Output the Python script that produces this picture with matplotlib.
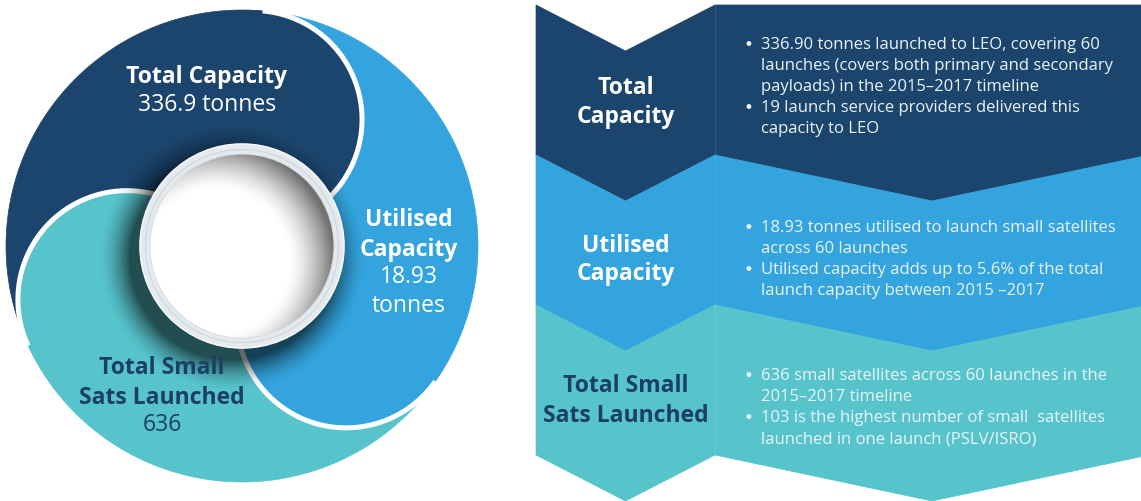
import numpy as np
import matplotlib
matplotlib.use("Agg")
import matplotlib.pyplot as plt
from matplotlib.patches import Circle, Polygon

plt.rcParams["font.family"] = ["Open Sans", "DejaVu Sans"]

NAVY = "#1b456c"
BLUE = "#33a4dd"
TEAL = "#57c4cc"
INK_NAVY = "#1b3f66"
PALE = "#eaf4f8"

# figures shown in the swirl and the panel
METRICS = ["Total Capacity", "Utilised Capacity", "Total Small Sats Launched"]
VALUES = [336.9, 18.93, 636]
UNITS = ["tonnes", "tonnes", ""]
SWIRL_TITLES = ["Total Capacity", "Utilised\nCapacity", "Total Small\nSats Launched"]
PANEL_TITLES = ["Total\nCapacity", "Utilised\nCapacity", "Total Small\nSats Launched"]
DETAILS = [
    ["336.90 tonnes launched to LEO, covering 60\nlaunches (covers both primary and secondary\npayloads) in the 2015\u20132017 timeline",
     "19 launch service providers delivered this\ncapacity to LEO"],
    ["18.93 tonnes utilised to launch small satellites\nacross 60 launches",
     "Utilised capacity adds up to 5.6% of the total\nlaunch capacity between 2015 \u20132017"],
    ["636 small satellites across 60 launches in the\n2015\u20132017 timeline",
     "103 is the highest number of small  satellites\nlaunched in one launch (PSLV/ISRO)"],
]
COLORS = [NAVY, BLUE, TEAL]
TITLE_INK = ["white", "white", INK_NAVY]

W, H = 1141, 501
CX, CY, R = 242, 246, 236
HEAD_R = 109
RING_R = 102
HEAD_DIR = [85, 325, 205]   # where each swirl arm touches the rim


def pt(ang, r, cx=CX, cy=CY):
    a = np.radians(ang)
    return cx + r * np.cos(a), cy - r * np.sin(a)


fig = plt.figure(figsize=(W / 100, H / 100), dpi=100)
ax = fig.add_axes([0, 0, 1, 1])

# --- swirl: three rim sectors, each with a round head over its neighbour
for c, phi in zip(COLORS, HEAD_DIR):
    th = np.linspace(phi, phi + 120, 200)
    xs, ys = pt(th, R)
    ax.add_patch(Polygon(np.column_stack([np.r_[CX, xs], np.r_[CY, ys]]),
                         closed=True, fc=c, ec=c, lw=0.5, zorder=1))
heads = []
for c, phi in zip(COLORS, HEAD_DIR):
    hx, hy = pt(phi, R - HEAD_R)
    ax.add_patch(Circle((hx, hy), HEAD_R, fc=c, ec="none", zorder=2))
    heads.append((hx, hy, phi))
for hx, hy, phi in heads:
    al = np.linspace(phi - 180, phi, 200)
    xs, ys = pt(al, HEAD_R, hx, hy)
    ax.plot(xs, ys, color="white", lw=3.6, solid_capstyle="butt", zorder=3)

yy, xx = np.mgrid[0:H, 0:500] + 0.5

# soft shadow round the hub, heavier towards lower left
d = np.hypot(xx - (CX - 10), yy - (CY + 12))
a = 0.6 * np.clip(1 - (d - RING_R) / 32, 0, 1) ** 1.7
sh = np.zeros((H, 500, 4))
sh[..., 3] = a
im = ax.imshow(sh, extent=(0, 500, H, 0), zorder=4, interpolation="bilinear")
im.set_clip_path(Circle((CX, CY), R, transform=ax.transData))

# hub ring and hollow centre
ax.add_patch(Circle((CX, CY), RING_R, fc="#e3e9ed", ec="#f4f7f8", lw=1.2, zorder=5))
ax.add_patch(Circle((CX, CY), 96.5, fc="none", ec="#cbd5db", lw=0.7, zorder=5))
ax.add_patch(Circle((CX, CY), 92, fc="white", ec="#d3dce1", lw=0.6, zorder=6))
d2 = np.hypot(xx - (CX - 26), yy - (CY + 16))
a2 = 0.55 * np.clip((d2 - 72) / 46, 0, 1) ** 1.5
sh2 = np.zeros((H, 500, 4))
sh2[..., 3] = a2
im2 = ax.imshow(sh2, extent=(0, 500, H, 0), zorder=7, interpolation="bilinear")
im2.set_clip_path(Circle((CX, CY), 91.5, transform=ax.transData))

# swirl labels
value_txt = [f"{v:g} {u}".strip() for v, u in zip(VALUES, UNITS)]
value_txt[1] = value_txt[1].replace(" ", "\n")
label_pos = [(207, 77), (409, 220), (162, 368)]
for title, val, (x, y), col in zip(SWIRL_TITLES, value_txt, label_pos, TITLE_INK):
    i = 0
    for ln in title.split("\n"):
        ax.text(x, y + i * 29.5, ln, ha="center", va="center", fontsize=16.5,
                fontweight="bold", color=col, zorder=8)
        i += 1
    for ln in val.split("\n"):
        ax.text(x, y + i * 29 - 1, ln, ha="center", va="center", fontsize=16.5,
                color=col, zorder=8)
        i += 1

# --- right panel: chevron bands
XL, XM, XR = 536, 715, 1149
APEX_L, APEX_R = 625.5, 932
for k, c in enumerate(COLORS):
    t, b = 5 + 150 * k, 155 + 150 * k
    left = [(XL, t), (APEX_L, t + 46), (XM, t), (XM, b), (APEX_L, b + 46), (XL, b)]
    ax.add_patch(Polygon(left, closed=True, fc=c, ec=c, lw=0.5, zorder=1))
    top = [(XM, t), (XR, t)] if k == 0 else [(XM, t), (APEX_R, t + 46), (XR, t)]
    right = top + [(XR, b), (APEX_R, b + 46), (XM, b)]
    ax.add_patch(Polygon(right, closed=True, fc=c, ec=c, lw=0.5, zorder=1))
    ax.plot([XM, XM], [t, b], color="white", alpha=0.12, lw=0.6, zorder=2)

title_y = [102, 260, 401]
for title, y, col in zip(PANEL_TITLES, title_y, TITLE_INK):
    lines = title.split("\n")
    for i, ln in enumerate(lines):
        ax.text(APEX_L, y + (i - (len(lines) - 1) / 2) * 29, ln, ha="center",
                va="center", fontsize=16.5, fontweight="bold", color=col, zorder=8)

bullet_y0 = [45, 228, 376]
for items, y0 in zip(DETAILS, bullet_y0):
    y = y0
    for item in items:
        ax.text(748, y, "\u2022", ha="center", va="center", fontsize=12,
                family="DejaVu Sans", color=PALE, zorder=8)
        for ln in item.split("\n"):
            ax.text(761, y, ln, ha="left", va="center", fontsize=12,
                    color=PALE, zorder=8)
            y += 21

ax.set_xlim(0, W)
ax.set_ylim(H, 0)
ax.set_aspect("auto")
ax.axis("off")
fig.savefig("out.png", dpi=100)
